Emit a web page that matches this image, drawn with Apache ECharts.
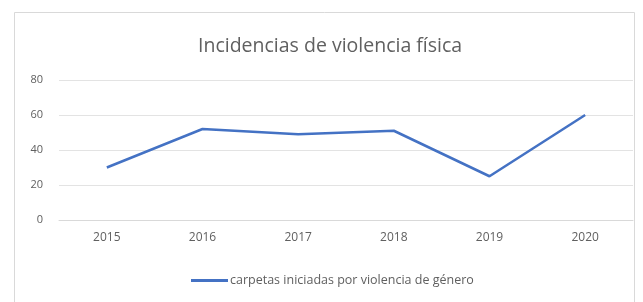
<!DOCTYPE html>
<html>
<head>
<meta charset="utf-8">
<script src="https://cdn.jsdelivr.net/npm/echarts@6/dist/echarts.min.js"></script>
<style>
  html, body { margin: 0; padding: 0; background: #fff; }
  #chart { width: 643px; height: 302px; }
</style>
</head>
<body>
<div id="chart"></div>
<script>
// datos
var years = ['2015', '2016', '2017', '2018', '2019', '2020'];
var carpetas = [30, 52, 49, 51, 25, 60];
var seriesName = 'carpetas iniciadas por violencia de género';

var chart = echarts.init(document.getElementById('chart'));
chart.setOption({
    animation: false,
    backgroundColor: '#fff',
    title: {
        text: 'Incidencias de violencia física',
        left: 193,
        top: 31,
        textStyle: {
            fontFamily: 'Open Sans',
            fontSize: 19.5,
            fontWeight: 'normal',
            color: '#606060'
        }
    },
    graphic: [{
        type: 'rect',
        shape: { x: 14.5, y: 12.5, width: 620, height: 300 },
        style: { fill: 'none', stroke: '#d9d9d9', lineWidth: 1 },
        silent: true
    }],
    legend: {
        data: [seriesName],
        top: 269,
        left: 186,
        itemWidth: 37,
        itemHeight: 3,
        itemGap: 4,
        icon: 'rect',
        textStyle: {
            fontFamily: 'Open Sans',
            fontSize: 12.5,
            color: '#606060',
            padding: [0, 0, 0, -3]
        }
    },
    grid: {
        left: 59,
        right: 10,
        top: 80,
        bottom: 82
    },
    xAxis: {
        type: 'category',
        data: years,
        boundaryGap: true,
        axisLine: { lineStyle: { color: '#d9d9d9' } },
        axisTick: { show: false },
        axisLabel: {
            fontFamily: 'Open Sans',
            fontSize: 12,
            color: '#606060',
            margin: 12
        }
    },
    yAxis: {
        type: 'value',
        min: 0,
        max: 80,
        interval: 20,
        axisLine: { show: false },
        axisTick: { show: false },
        splitLine: { lineStyle: { color: '#e3e3e3' } },
        axisLabel: {
            fontFamily: 'Open Sans',
            fontSize: 11,
            color: '#606060',
            margin: 16
        }
    },
    series: [{
        name: seriesName,
        type: 'line',
        data: carpetas,
        symbol: 'none',
        lineStyle: { color: '#4472C4', width: 2.5 },
        itemStyle: { color: '#4472C4' }
    }]
});
</script>
</body>
</html>
